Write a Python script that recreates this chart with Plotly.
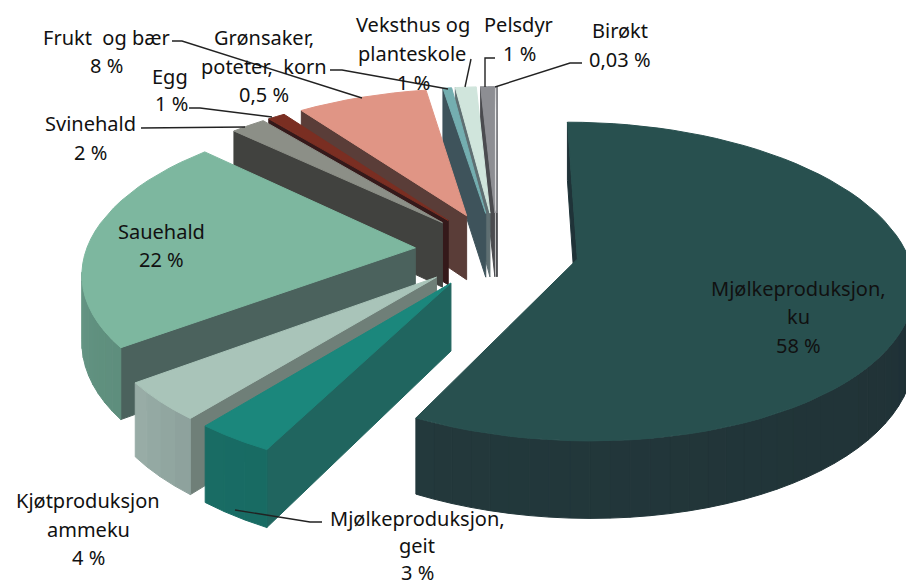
import math

import plotly.graph_objects as go

# shares, clockwise from the top (labels below give the printed figures)
categories = ["Mjølkeproduksjon, ku", "Mjølkeproduksjon, geit", "Kjøtproduksjon ammeku", "Sauehald", "Svinehald",
              "Egg", "Frukt og bær", "Grønsaker, poteter, korn", "Veksthus og planteskole", "Pelsdyr", "Birøkt"]
values = [57.9, 3.3, 4, 22.4, 2, 1, 7.5, 0.5, 1.2, 0.8, 0.03]

top_colors = ["#28504f", "#1b877c", "#a9c4b9", "#7db79f", "#8c8f87", "#7a2e22", "#e09585", "#74aeb0", "#d0e5dc",
              "#8d8e93", "#8d8e93"]
cut_colors = ["#1f3338", "#20655f", "#6f7f78", "#4b625d", "#41423f", "#35191a", "#5a3d38", "#3e535b", "#5f6f72",
              "#4a4b4f", "#4a4b4f"]
rim_from = ["#1d2a30", "#176a62", "#8a9f9a", "#5d8d7c", "#6a6c66", "#5c231a", "#a87064", "#578384", "#9caca5",
            "#6a6b6e", "#6a6b6e"]
rim_to = ["#23393c", "#1a6d66", "#9fb3ac", "#74a592", "#6a6c66", "#5c231a", "#a87064", "#578384", "#9caca5",
          "#6a6b6e", "#6a6b6e"]

# text lines: (text, x, y)
label_lines = [
    ("Frukt  og bær", 106, 37), ("8 %", 106, 65),
    ("Grønsaker,", 264, 37), ("poteter,  korn", 264, 66), ("0,5 %", 264, 94),
    ("Egg", 170, 76), ("1 %", 171, 103),
    ("Svinehald", 90, 123), ("2 %", 90, 152),
    ("Veksthus og", 413, 24), ("planteskole", 412, 53), ("1 %", 413, 82),
    ("Pelsdyr", 518, 24), ("1 %", 519, 53),
    ("Birøkt", 620, 30), ("0,03 %", 620, 59),
    ("Sauehald", 161, 231), ("22 %", 161, 259),
    ("Mjølkeproduksjon,", 798, 288), ("ku", 798, 316), ("58 %", 798, 345),
    ("Kjøtproduksjon", 88, 500), ("ammeku", 88, 529), ("4 %", 88, 557),
    ("Mjølkeproduksjon,", 417, 518), ("geit", 417, 545), ("3 %", 417, 572),
]

leaders = [
    ([172, 182, 362], [41, 41, 98]),
    ([330, 342, 448], [70, 70, 89]),
    ([471, 465], [59, 87]),
    ([495, 485, 485], [58, 58, 87]),
    ([582, 570, 495], [63, 63, 87]),
    ([189, 200, 272], [108, 108, 117]),
    ([141, 245], [128, 127]),
    ([322, 310, 235], [522, 522, 510]),
]

# pie geometry in pixels, fitted to the reference
CX, CY = 497, 250
RADIUS = 329
EXPLODE = 82
TILT = 0.467
CAMERA = 2350
THICK = 66


def project(u, v, z=0):
    s = 1 / (1 - v / CAMERA)
    return CX + u * s, CY + (TILT * v + z) * s


def mix(c1, c2, t):
    a = [int(c1[i:i + 2], 16) for i in (1, 3, 5)]
    b = [int(c2[i:i + 2], 16) for i in (1, 3, 5)]
    return "#%02x%02x%02x" % tuple(round(p + (q - p) * t) for p, q in zip(a, b))


def area(pts):
    return sum(pts[i][0] * pts[(i + 1) % len(pts)][1] - pts[(i + 1) % len(pts)][0] * pts[i][1]
               for i in range(len(pts))) / 2


def poly(fig, pts, color):
    fig.add_trace(go.Scatter(
        x=[p[0] for p in pts] + [pts[0][0]],
        y=[p[1] for p in pts] + [pts[0][1]],
        mode="lines",
        fill="toself",
        fillcolor=color,
        line=dict(color=color, width=1),
        hoverinfo="skip",
        showlegend=False,
    ))


def draw_slice(fig, i, t0, t1):
    mid = (t0 + t1) / 2
    au, av = EXPLODE * math.sin(mid), -EXPLODE * math.cos(mid)
    steps = max(2, int((t1 - t0) / math.radians(3)))
    ground = [(au, av)]
    for n in range(steps + 1):
        t = t0 + (t1 - t0) * n / steps
        ground.append((au + RADIUS * math.sin(t), av - RADIUS * math.cos(t)))

    count = len(ground)
    for n in range(count):
        a, b = ground[n], ground[(n + 1) % count]
        face = [project(*a), project(*b), project(*b, THICK), project(*a, THICK)]
        if area(face) >= 0:
            continue
        if n == 0 or n == count - 1:
            poly(fig, face, cut_colors[i])
        else:
            poly(fig, face, mix(rim_from[i], rim_to[i], n / count))
    poly(fig, [project(*g) for g in ground], top_colors[i])


fig = go.Figure()

total = sum(values)
spans = []
angle = 0
for val in values:
    span = val / total * 2 * math.pi
    spans.append((angle, angle + span))
    angle += span

# back to front
for i in range(len(values) - 1, -1, -1):
    draw_slice(fig, i, *spans[i])

for xs, ys in leaders:
    fig.add_trace(go.Scatter(x=xs, y=ys, mode="lines", line=dict(color="#222222", width=1.4),
                             hoverinfo="skip", showlegend=False))

for text, x, y in label_lines:
    fig.add_annotation(x=x, y=y, text=text, showarrow=False, xanchor="center", yanchor="middle",
                       font=dict(family="Noto Sans", size=20, color="#111111"))

fig.update_xaxes(range=[0, 906], visible=False, fixedrange=True)
fig.update_yaxes(range=[582, 0], visible=False, fixedrange=True)
fig.update_layout(
    width=906,
    height=582,
    margin=dict(l=0, r=0, t=0, b=0),
    paper_bgcolor="white",
    plot_bgcolor="white",
)

# page has a default body margin that would push the plot 8px in
fig.write_html(
    "out.html",
    config={"displayModeBar": False},
    post_script="document.body.style.margin='0';document.documentElement.style.overflow='hidden';",
)
